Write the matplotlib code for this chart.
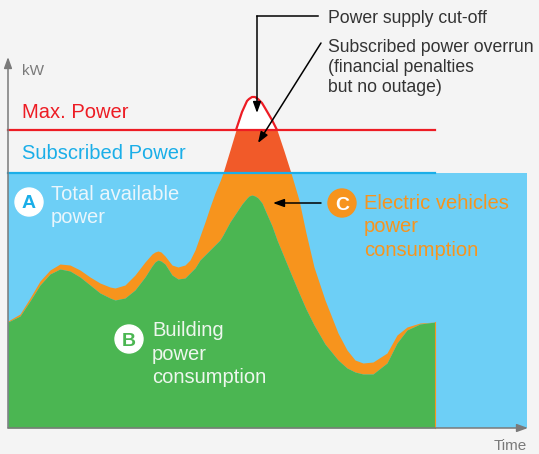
import numpy as np
import matplotlib
matplotlib.use("Agg")
import matplotlib.pyplot as plt
from matplotlib.patches import Circle

plt.rcParams['font.family'] = ['Liberation Sans', 'DejaVu Sans']

# time axis (arbitrary units) and power levels (kW, arbitrary units)
time = [0, 12, 22, 32, 42, 52, 62, 72, 82, 92, 102, 107, 117, 127, 137, 144, 147, 150,
        153, 157, 164, 170, 177, 182, 187, 192, 197, 202, 207, 212, 215, 222, 228, 234,
        239, 241, 244, 247, 250, 254, 257, 264, 269, 276, 283, 291, 298, 306, 317, 330,
        339, 347, 355, 365, 379, 389, 399, 412, 427]
building = [106, 112, 127, 143, 154, 159, 157, 151, 143, 135, 130, 128, 130, 138, 151,
            162, 166, 168, 167, 164, 153, 149, 150, 155, 160, 168, 173, 178, 183, 188,
            193, 206, 215, 224, 230, 232, 233, 232, 230, 225, 218, 202, 188, 171, 154,
            135, 119, 103, 84, 68, 60, 56, 54, 54, 65, 85, 98, 104, 106]
total = [107, 114, 130, 147, 158, 164, 163, 158, 151, 145, 141, 140, 143, 153, 166, 174,
         176, 177, 176, 172, 163, 161, 163, 168, 178, 192, 206, 221, 235, 247, 255, 278,
         298, 316, 327, 329, 331, 331, 329, 325, 320, 308, 298, 277, 255, 228, 195, 161,
         128, 95, 78, 68, 65, 66, 75, 93, 101, 105, 106]
subscribed = 255
max_power = 298
time_end = 519

BG = '#f4f4f4'
BLUE = '#6dcff6'
BLUE_DARK = '#1aaee8'
RED = '#ed1c24'
GREEN = '#4bb652'
ORANGE = '#f7941d'
RED_ORANGE = '#f15a29'
AXIS = '#7a7a7a'

t = np.array(time)
b = np.array(building)
tot = np.array(total)

fig = plt.figure(figsize=(5.39, 4.54), dpi=100, facecolor=BG)
ax = fig.add_axes([0, 0, 1, 1])
ax.set_facecolor(BG)
ax.set_xlim(-8, 531)
ax.set_ylim(-26, 428)
ax.axis('off')

# total available power (blue block)
ax.fill_between([0, time_end], 0, subscribed, color=BLUE, lw=0, zorder=1)

# stacked consumption
ax.fill_between(t, b, np.minimum(tot, subscribed), where=tot >= b, color=ORANGE,
                lw=0, interpolate=True, zorder=2)
ax.fill_between(t, 0, b, color=GREEN, lw=0, zorder=3)
ax.plot([t[-1], t[-1]], [0, b[-1]], color=ORANGE, lw=0.8, zorder=3)
ax.fill_between(t, subscribed, np.minimum(tot, max_power), where=tot >= subscribed,
                color=RED_ORANGE, lw=0, interpolate=True, zorder=2)
ax.fill_between(t, max_power, tot, where=tot >= max_power, color='white', lw=0,
                interpolate=True, zorder=2)
over = np.where(tot >= max_power, tot, np.nan)
ax.plot(t, over, color=RED, lw=1.6, zorder=4, solid_capstyle='butt')

# threshold lines
ax.plot([0, t[-1]], [max_power, max_power], color=RED, lw=1.6, zorder=4)
ax.plot([0, t[-1]], [subscribed, subscribed], color=BLUE_DARK, lw=1.6, zorder=4)

# axes with arrows
axis_arrow = dict(arrowstyle='-|>,head_length=0.55,head_width=0.2', color=AXIS, lw=1.1,
                  shrinkA=0, shrinkB=0, mutation_scale=12)
ax.annotate('', xy=(0, 371), xytext=(0, 0), arrowprops=axis_arrow, zorder=5)
ax.annotate('', xy=(time_end + 1, 0), xytext=(0, 0), arrowprops=axis_arrow, zorder=5)
ax.text(14, 353, 'kW', fontsize=11, color=AXIS, va='baseline')
ax.text(time_end, -22, 'Time', fontsize=11, color=AXIS, ha='right', va='baseline')

ax.text(14, 310, 'Max. Power', fontsize=14.5, color=RED, va='baseline')
ax.text(14, 269, 'Subscribed Power', fontsize=14.5, color=BLUE_DARK, va='baseline')

# labels A, B, C (multi-line texts are anchored at the baseline of their last line)
ax.add_patch(Circle((21, 226), 14, color='white', zorder=5))
ax.text(21, 226, 'A', fontsize=14, fontweight='bold', color=BLUE_DARK, ha='center',
        va='center_baseline', zorder=6)
ax.text(43, 205, 'Total available\npower', fontsize=14.5, color='#eaf6fc',
        va='baseline', linespacing=1.3, zorder=6)

ax.add_patch(Circle((121, 89), 14, color='white', zorder=5))
ax.text(121, 89, 'B', fontsize=14, fontweight='bold', color=GREEN, ha='center',
        va='center_baseline', zorder=6)
ax.text(144, 45, 'Building\npower\nconsumption', fontsize=14.5, color='#eef7ee',
        va='baseline', linespacing=1.3, zorder=6)

ax.add_patch(Circle((334, 225), 14, color=ORANGE, zorder=5))
ax.text(334, 225, 'C', fontsize=14, fontweight='bold', color='white', ha='center',
        va='center_baseline', zorder=6)
ax.text(356, 172, 'Electric vehicles\npower\nconsumption', fontsize=14.5, color=ORANGE,
        va='baseline', linespacing=1.3, zorder=6)

note_arrow = dict(arrowstyle='-|>,head_length=0.55,head_width=0.2', color='black',
                  lw=1.1, shrinkA=0, shrinkB=0, mutation_scale=12)
ax.annotate('', xy=(265, 225), xytext=(313, 225), arrowprops=note_arrow, zorder=6)

# annotations at the peak
ax.text(320, 405, 'Power supply cut-off', fontsize=12.7, color='#333333', va='baseline')
ax.plot([310, 249], [412, 412], color='black', lw=1.1, zorder=6)
ax.annotate('', xy=(249, 315), xytext=(249, 412), arrowprops=note_arrow, zorder=6)

ax.text(320, 336, 'Subscribed power overrun\n(financial penalties\nbut no outage)',
        fontsize=12.7, color='#333333', va='baseline', linespacing=1.25)
ax.annotate('', xy=(250, 285), xytext=(313, 385), arrowprops=note_arrow, zorder=6)

fig.savefig('out.png', dpi=100, facecolor=BG)
